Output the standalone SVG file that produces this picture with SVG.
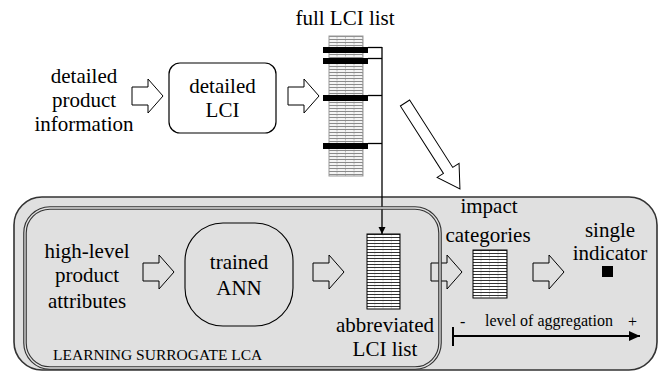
<svg xmlns="http://www.w3.org/2000/svg" width="662" height="371" viewBox="0 0 662 371">
<style>
.conn{fill:none;stroke:#000;stroke-width:1.3}
.bar{fill:#000}
.t{font-family:"Liberation Serif","Times New Roman",serif;font-size:21px;text-anchor:middle;fill:#000}
.s{font-family:"Liberation Serif","Times New Roman",serif;font-size:16px;fill:#000}
</style>
<defs>
<path id="barrow" d="M0,-9 H16 V-17 L31,0 L16,17 V9 H0 Z" fill="none" stroke="#000" stroke-width="1"/>
<pattern id="pFull" patternUnits="userSpaceOnUse" x="329" y="36" width="8.5" height="3">
<rect width="8.5" height="3" fill="#f4f4f4"/>
<line x1="0" y1="0.5" x2="8.5" y2="0.5" stroke="#8a8a8a" stroke-width="1"/>
<line x1="8" y1="1" x2="8" y2="2.5" stroke="#aaa" stroke-width="0.8"/>
</pattern>
<pattern id="pList" patternUnits="userSpaceOnUse" x="367" y="234" width="8.25" height="3">
<rect width="8.25" height="3" fill="#fff"/>
<line x1="0" y1="0.5" x2="8.25" y2="0.5" stroke="#333" stroke-width="1"/>
<line x1="8" y1="1" x2="8" y2="2.5" stroke="#bbb" stroke-width="0.8"/>
</pattern>
<pattern id="pImp" patternUnits="userSpaceOnUse" x="473" y="250" width="8.5" height="3">
<rect width="8.5" height="3" fill="#fff"/>
<line x1="0" y1="0.5" x2="8.5" y2="0.5" stroke="#333" stroke-width="1"/>
<line x1="8" y1="1" x2="8" y2="2.5" stroke="#bbb" stroke-width="0.8"/>
</pattern>
<marker id="ah" markerWidth="8" markerHeight="8" refX="7" refY="4" orient="auto" markerUnits="userSpaceOnUse">
<path d="M0,0.5 L7,4 L0,7.5 Z" fill="#000"/>
</marker>
<marker id="ah2" markerWidth="12" markerHeight="12" refX="11" refY="6" orient="auto" markerUnits="userSpaceOnUse">
<path d="M0,1 L11,6 L0,11 Z" fill="#000"/>
</marker>
</defs>

<g id="surrogate-frame">
<rect x="14" y="197" width="643" height="173" rx="28" fill="#e0e0e0" stroke="#333" stroke-width="1.6"/>
</g>

<g id="detailed-product-information">
<text class="t" x="84" y="83">detailed</text>
<text class="t" x="84" y="107">product</text>
<text class="t" x="84" y="131">information</text>
</g>

<g id="detailed-lci">
<rect x="169" y="63" width="107" height="70" rx="11" fill="#fff" stroke="#000" stroke-width="1.2"/>
<text class="t" x="222.5" y="93">detailed</text>
<text class="t" x="222.5" y="117">LCI</text>
</g>

<g id="full-lci-list">
<text class="t" x="345" y="25">full LCI list</text>
<rect x="329" y="36" width="34" height="140" fill="url(#pFull)" stroke="#999" stroke-width="1"/>
<rect class="bar" x="323" y="47" width="45" height="6"/>
<rect class="bar" x="323" y="58" width="45" height="6"/>
<rect class="bar" x="323" y="95" width="45" height="6"/>
<rect class="bar" x="323" y="143" width="45" height="6"/>
</g>

<g id="high-level-product-attributes">
<text class="t" x="87" y="258">high-level</text>
<text class="t" x="87" y="282">product</text>
<text class="t" x="87" y="308">attributes</text>
</g>

<g id="trained-ann">
<rect x="185" y="223" width="108" height="103" rx="38" fill="none" stroke="#000" stroke-width="1.1"/>
<text class="t" x="239" y="269">trained</text>
<text class="t" x="239" y="295">ANN</text>
</g>

<g id="abbreviated-lci-list">
<rect x="367" y="234" width="33" height="75" fill="url(#pList)" stroke="#000" stroke-width="1"/>
<text class="t" x="385" y="332">abbreviated</text>
<text class="t" x="385" y="356">LCI list</text>
</g>

<g id="impact-categories">
<text class="t" x="489" y="213">impact</text>
<text class="t" x="488" y="242">categories</text>
<rect x="473" y="250" width="34" height="48" fill="url(#pImp)" stroke="#000" stroke-width="1"/>
</g>

<g id="single-indicator">
<text class="t" x="610" y="237">single</text>
<text class="t" x="610" y="260">indicator</text>
<rect x="602" y="266" width="11" height="11" fill="#000"/>
</g>

<g id="connectors">
<use href="#barrow" transform="translate(132,96)"/>
<use href="#barrow" transform="translate(288,96)"/>
<path d="M0,-5.5 H80 V-13 L102,0 L80,13 V5.5 H0 Z" fill="#fff" stroke="#000" stroke-width="1" transform="translate(405,103) rotate(57.4)"/>
<use href="#barrow" transform="translate(143,272)"/>
<use href="#barrow" transform="translate(313,272)"/>
<use href="#barrow" transform="translate(431,272)"/>
<use href="#barrow" transform="translate(533,272)"/>
<line class="conn" x1="368" y1="47.5" x2="382" y2="47.5"/>
<line class="conn" x1="368" y1="58.5" x2="382" y2="58.5"/>
<line class="conn" x1="368" y1="95.5" x2="382" y2="95.5"/>
<line class="conn" x1="368" y1="143.5" x2="382" y2="143.5"/>
<line class="conn" x1="382" y1="47" x2="382" y2="234" marker-end="url(#ah)"/>
</g>

<g id="learning-surrogate-lca">
<rect x="25" y="208" width="415" height="160" rx="25" fill="none" stroke="#333" stroke-width="3.6"/>
<rect x="25" y="208" width="415" height="160" rx="25" fill="none" stroke="#e0e0e0" stroke-width="1.3"/>
<text class="s" x="53" y="360" style="font-size:15.5px">LEARNING SURROGATE LCA</text>
</g>

<g id="aggregation-scale">
<line x1="453" y1="327" x2="453" y2="346" stroke="#000" stroke-width="2"/>
<line x1="453" y1="336" x2="640" y2="336" stroke="#000" stroke-width="2" marker-end="url(#ah2)"/>
<text class="s" x="460" y="327">-</text>
<text class="s" x="485" y="326">level of aggregation</text>
<text class="s" x="628" y="327">+</text>
</g>
</svg>
